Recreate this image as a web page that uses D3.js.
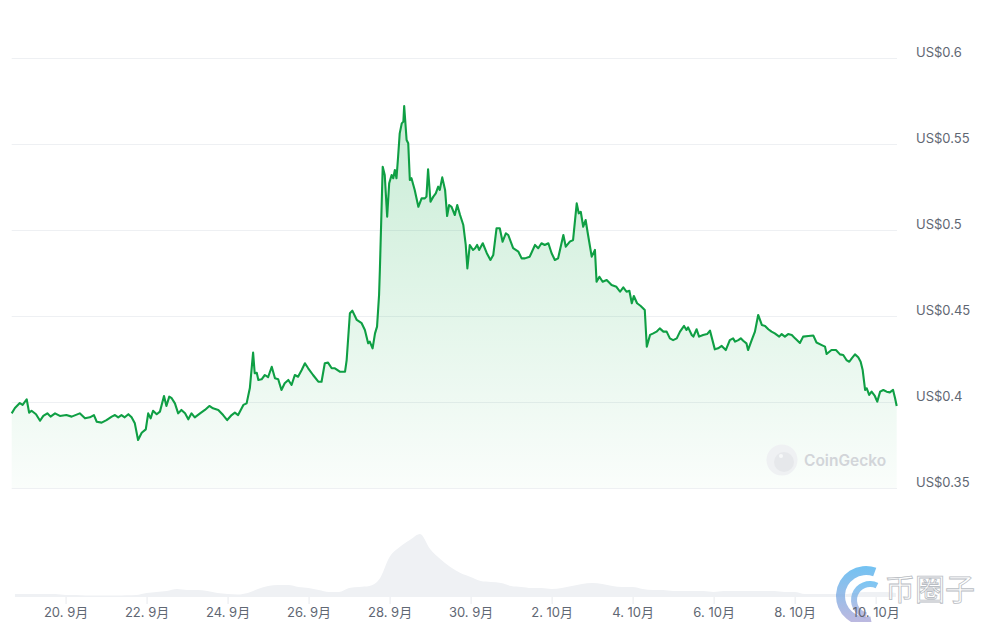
<!DOCTYPE html>
<html>
<head>
<meta charset="utf-8">
<script src="https://cdn.jsdelivr.net/npm/d3@7"></script>
<style>
  html, body { margin: 0; padding: 0; background: #ffffff; }
  svg { display: block; }
  text { font-family: Inter, "Noto Sans CJK SC", "DejaVu Sans", sans-serif; }
</style>
</head>
<body>
<svg id="chart" width="982" height="622"></svg>
<script>
// ---- data (days offset from 20 Sep, price in USD) ----
const dayOffsets = [-1.33,-1.25,-1.13,-1.06,-0.96,-0.90,-0.84,-0.73,-0.63,-0.55,-0.45,-0.37,-0.26,-0.14,0.02,0.15,0.35,0.48,0.60,0.70,0.77,0.89,1.01,1.14,1.22,1.30,1.38,1.46,1.55,1.63,1.71,1.79,1.88,1.98,2.04,2.10,2.16,2.25,2.33,2.43,2.49,2.56,2.62,2.70,2.78,2.86,2.95,3.03,3.11,3.19,3.32,3.44,3.55,3.64,3.77,3.89,3.99,4.10,4.18,4.26,4.39,4.47,4.55,4.63,4.67,4.72,4.76,4.84,4.92,5.00,5.09,5.17,5.25,5.33,5.41,5.50,5.58,5.66,5.74,5.83,5.91,5.99,6.11,6.24,6.32,6.40,6.48,6.57,6.65,6.77,6.90,6.94,7.02,7.08,7.19,7.31,7.39,7.47,7.51,7.58,7.64,7.69,7.74,7.76,7.83,7.88,7.94,7.99,8.05,8.09,8.13,8.17,8.21,8.25,8.30,8.34,8.36,8.42,8.46,8.50,8.54,8.62,8.71,8.79,8.87,8.91,8.95,9.01,9.08,9.14,9.20,9.24,9.30,9.37,9.42,9.47,9.53,9.61,9.67,9.74,9.82,9.88,9.92,9.98,10.06,10.11,10.16,10.21,10.30,10.40,10.49,10.56,10.64,10.72,10.79,10.87,10.93,11.05,11.18,11.26,11.34,11.46,11.59,11.67,11.75,11.83,11.92,12.00,12.08,12.16,12.29,12.35,12.45,12.53,12.62,12.67,12.72,12.78,12.84,12.90,12.99,13.07,13.11,13.18,13.26,13.36,13.48,13.60,13.69,13.77,13.85,13.92,13.98,14.03,14.11,14.20,14.30,14.35,14.43,14.51,14.59,14.67,14.76,14.84,14.92,15.00,15.09,15.17,15.27,15.33,15.37,15.46,15.50,15.58,15.64,15.74,15.84,15.91,16.03,16.11,16.20,16.30,16.40,16.48,16.53,16.61,16.67,16.73,16.81,16.85,16.94,17.02,17.10,17.19,17.27,17.35,17.43,17.51,17.62,17.68,17.76,17.84,17.93,18.01,18.13,18.21,18.34,18.46,18.54,18.67,18.75,18.79,18.91,19.02,19.12,19.20,19.28,19.35,19.41,19.49,19.57,19.63,19.68,19.74,19.78,19.84,19.90,19.98,20.04,20.11,20.19,20.27,20.35,20.43,20.48,20.52];
const prices = [0.3934,0.3965,0.3994,0.3983,0.4016,0.3938,0.3949,0.3929,0.3891,0.3919,0.3934,0.3915,0.3934,0.3919,0.3924,0.3915,0.3934,0.3905,0.3911,0.3924,0.3885,0.3880,0.3895,0.3915,0.3924,0.3911,0.3924,0.3911,0.3929,0.3911,0.3876,0.3779,0.3821,0.3841,0.3934,0.3905,0.3949,0.3929,0.3944,0.4035,0.3977,0.4031,0.4022,0.3992,0.3934,0.3954,0.3934,0.3899,0.3934,0.3911,0.3934,0.3954,0.3977,0.3963,0.3954,0.3924,0.3895,0.3924,0.3938,0.3924,0.3983,0.3992,0.4081,0.4287,0.4167,0.4170,0.4128,0.4132,0.4157,0.4144,0.4205,0.4138,0.4132,0.4070,0.4109,0.4128,0.4099,0.4157,0.4147,0.4186,0.4225,0.4196,0.4157,0.4118,0.4118,0.4225,0.4229,0.4196,0.4196,0.4176,0.4176,0.4244,0.4516,0.4531,0.4477,0.4458,0.4419,0.4341,0.4351,0.4312,0.4399,0.4438,0.4622,0.4767,0.5368,0.5320,0.5077,0.5272,0.5320,0.5301,0.5349,0.5301,0.5426,0.5562,0.5620,0.5630,0.5721,0.5523,0.5504,0.5291,0.5301,0.5233,0.5135,0.5184,0.5184,0.5194,0.5353,0.5165,0.5194,0.5213,0.5252,0.5233,0.5306,0.5233,0.5081,0.5145,0.5135,0.5087,0.5145,0.5087,0.5029,0.4913,0.4777,0.4913,0.4884,0.4894,0.4913,0.4884,0.4923,0.4865,0.4826,0.4855,0.5010,0.5010,0.4932,0.4981,0.4971,0.4894,0.4874,0.4835,0.4835,0.4845,0.4913,0.4894,0.4923,0.4913,0.4923,0.4865,0.4826,0.4835,0.4971,0.4903,0.4932,0.4942,0.5155,0.5097,0.5106,0.5019,0.5058,0.4971,0.4845,0.4884,0.4699,0.4728,0.4699,0.4709,0.4680,0.4670,0.4641,0.4667,0.4641,0.4647,0.4574,0.4616,0.4574,0.4558,0.4535,0.4322,0.4390,0.4399,0.4409,0.4428,0.4409,0.4409,0.4370,0.4360,0.4370,0.4409,0.4442,0.4419,0.4434,0.4390,0.4380,0.4423,0.4380,0.4390,0.4395,0.4415,0.4306,0.4312,0.4326,0.4302,0.4360,0.4370,0.4351,0.4360,0.4370,0.4356,0.4341,0.4302,0.4360,0.4409,0.4506,0.4448,0.4442,0.4423,0.4409,0.4399,0.4380,0.4395,0.4380,0.4395,0.4390,0.4370,0.4343,0.4380,0.4384,0.4387,0.4346,0.4331,0.4322,0.4279,0.4302,0.4302,0.4277,0.4273,0.4244,0.4234,0.4254,0.4277,0.4260,0.4234,0.4186,0.4070,0.4080,0.4041,0.4060,0.4035,0.4002,0.4060,0.4070,0.4060,0.4056,0.4070,0.4022,0.3977];

// volume (relative units), sampled every quarter day from -1.25
const volumeDays = d3.range(88).map(i => -1.25 + i * 0.25);
const volumes = [3,3,3,3,3,2,2,1.5,1.5,1.5,1.5,1.7,2,4,5,6,8,7,7,6,4,3,2.5,4,8,11,12,12,10,9,7,5,5,9,10,11,18,40,50,57,63,48,38,30,24,20,16,15,14,11,10,9,9,8,9,11,13,14,13,11,10,10,8,7,7,6,6,6,6,5,6,6,6,6,6,6,5,5,3,3,3,3,3,4,5,5,5,4];

const priceTicks = [0.35, 0.4, 0.45, 0.5, 0.55, 0.6];
const priceTickLabels = ["US$0.35", "US$0.4", "US$0.45", "US$0.5", "US$0.55", "US$0.6"];
const dateTickDays = [0, 2, 4, 6, 8, 10, 12, 14, 16, 18, 20];
const dateTickLabels = ["20. 9月", "22. 9月", "24. 9月", "26. 9月", "28. 9月", "30. 9月", "2. 10月", "4. 10月", "6. 10月", "8. 10月", "10. 10月"];

// ---- drawing ----
const baseMs = Date.UTC(2023, 8, 20);
const toDate = d => new Date(baseMs + d * 864e5);

const svg = d3.select("#chart");
const left = 11.7, right = 896.7;

const x = d3.scaleUtc()
  .domain([toDate(dayOffsets[0]), toDate(dayOffsets[dayOffsets.length - 1])])
  .range([left, right]);
const y = d3.scaleLinear().domain([0.35, 0.6]).range([488, 58]);
const yv = d3.scaleLinear().domain([0, 64]).range([597, 533]);

const series = dayOffsets.map((d, i) => ({ t: toDate(d), p: prices[i] }));
const volSeries = volumeDays.map((d, i) => ({ t: toDate(d), v: volumes[i] }));

const defs = svg.append("defs");
const grad = defs.append("linearGradient")
  .attr("id", "fillGrad").attr("gradientUnits", "userSpaceOnUse")
  .attr("x1", 0).attr("x2", 0).attr("y1", y(0.575)).attr("y2", y(0.35));
grad.append("stop").attr("offset", 0).attr("stop-color", "#00a83e").attr("stop-opacity", 0.22);
grad.append("stop").attr("offset", 1).attr("stop-color", "#00a83e").attr("stop-opacity", 0.02);

// grid lines + right labels
const yAxis = d3.axisRight(y)
  .tickValues(priceTicks)
  .tickSize(-(right - left + 0.3))
  .tickPadding(19)
  .tickFormat((d, i) => priceTickLabels[i]);
const yg = svg.append("g").attr("transform", `translate(${right + 0.3},0)`).call(yAxis);
yg.select(".domain").remove();
yg.selectAll(".tick line").attr("stroke", "#eef0f3").attr("stroke-width", 1);
yg.selectAll(".tick text")
  .attr("fill", "#5f6773").attr("font-size", 13)
  .attr("dy", "-0.15em");

// volume area
const volArea = d3.area()
  .x(d => x(d.t)).y0(yv(0)).y1(d => yv(d.v))
  .curve(d3.curveMonotoneX);
svg.append("path").datum(volSeries)
  .attr("d", volArea)
  .attr("fill", "#eff1f4");

// price area + line
const area = d3.area().x(d => x(d.t)).y0(y(0.35)).y1(d => y(d.p));
svg.append("path").datum(series).attr("d", area).attr("fill", "url(#fillGrad)");
const line = d3.line().x(d => x(d.t)).y(d => y(d.p));
svg.append("path").datum(series).attr("d", line)
  .attr("fill", "none").attr("stroke", "#0f9f44").attr("stroke-width", 2.1)
  .attr("stroke-linejoin", "round");

// CoinGecko watermark
const cg = svg.append("g");
cg.append("circle").attr("cx", 782).attr("cy", 460).attr("r", 15.5).attr("fill", "#eff1f3");
cg.append("circle").attr("cx", 784).attr("cy", 462).attr("r", 10).attr("fill", "#e6e8eb");
cg.append("circle").attr("cx", 781).attr("cy", 456).attr("r", 2).attr("fill", "#f7f8f9");
cg.append("text").attr("x", 804).attr("y", 466).attr("font-size", 15.5)
  .attr("font-weight", 600).attr("fill", "#d2d5d9").text("CoinGecko");

// 币圈子 watermark (behind axis labels, semi-transparent)
const wm = svg.append("g");
const lg = defs.append("linearGradient").attr("id", "wmGrad")
  .attr("x1", 0).attr("x2", 0).attr("y1", 0).attr("y2", 1);
lg.append("stop").attr("offset", 0).attr("stop-color", "#4fb3ef");
lg.append("stop").attr("offset", 1).attr("stop-color", "#b2a6d6");
const arcGen = d3.arc();
wm.append("path")
  .attr("transform", "translate(866,596)")
  .attr("d", arcGen({ innerRadius: 21, outerRadius: 30, startAngle: 0.35, endAngle: -3.35 }))
  .attr("fill", "url(#wmGrad)").attr("opacity", 0.8);
wm.append("path")
  .attr("transform", "translate(870,600)")
  .attr("d", arcGen({ innerRadius: 13, outerRadius: 19, startAngle: 0.45, endAngle: -2.9 }))
  .attr("fill", "url(#wmGrad)").attr("opacity", 0.75);
wm.append("text").attr("x", 885).attr("y", 600).attr("font-size", 30)
  .attr("font-family", "'Noto Sans CJK SC', sans-serif")
  .attr("fill", "#ffffff").attr("stroke", "#b9bdc3").attr("stroke-width", 0.8)
  .text("币圈子");

// x axis
const xAxis = d3.axisBottom(x)
  .tickValues(dateTickDays.map(toDate))
  .tickSize(7).tickPadding(4)
  .tickFormat((d, i) => dateTickLabels[i]);
const xg = svg.append("g").attr("transform", "translate(0,597)").call(xAxis);
xg.select(".domain").remove();
xg.selectAll(".tick line").attr("stroke", "#e8eaee");
xg.selectAll(".tick text").attr("fill", "#5f6773").attr("font-size", 13);
</script>
</body>
</html>
